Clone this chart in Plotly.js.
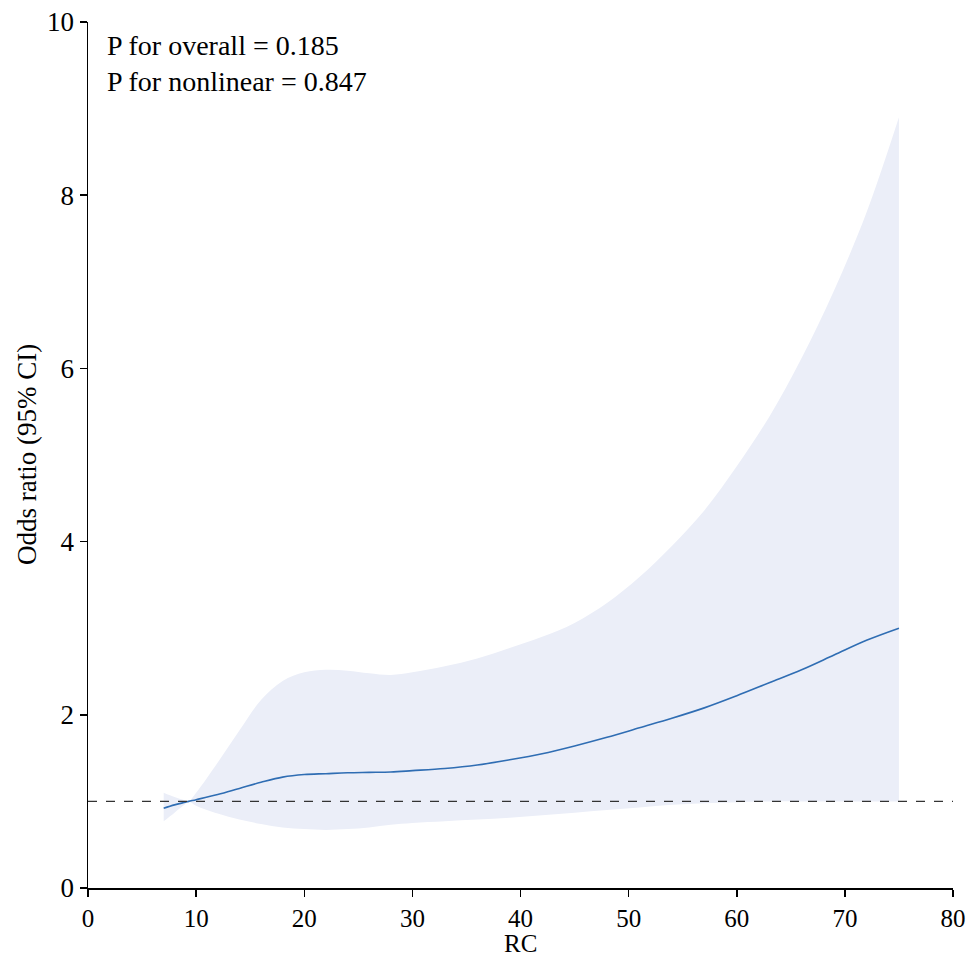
<!DOCTYPE html>
<html>
<head>
<meta charset="utf-8">
<script src="https://cdn.plot.ly/plotly-3.0.1.min.js"></script>
<style>html,body{margin:0;padding:0;background:#fff;}#chart{width:970px;height:958px;}</style>
</head>
<body>
<div id="chart"></div>
<script>
const rc    = [7, 8, 9, 9.3, 10, 12, 14, 16, 18, 20, 22, 24, 26, 28, 30, 33, 36, 39, 42, 45, 48, 51, 54, 57, 60, 63, 66, 69, 72, 75];
const orFit = [0.92, 0.96, 0.99, 1.0, 1.02, 1.08, 1.15, 1.22, 1.28, 1.31, 1.32, 1.33, 1.335, 1.34, 1.355, 1.38, 1.42, 1.48, 1.55, 1.64, 1.74, 1.85, 1.96, 2.08, 2.22, 2.37, 2.52, 2.69, 2.86, 3.00];
const orUpper = [1.10, 1.05, 1.01, 1.0, 1.10, 1.45, 1.82, 2.17, 2.39, 2.49, 2.52, 2.51, 2.48, 2.46, 2.49, 2.56, 2.65, 2.77, 2.90, 3.06, 3.29, 3.59, 3.95, 4.36, 4.87, 5.44, 6.12, 6.90, 7.80, 8.90];
const orLower = [0.77, 0.87, 0.97, 1.0, 0.95, 0.86, 0.79, 0.74, 0.70, 0.68, 0.67, 0.68, 0.70, 0.73, 0.75, 0.77, 0.79, 0.81, 0.84, 0.87, 0.90, 0.93, 0.96, 0.98, 0.99, 1.0, 1.0, 1.0, 1.0, 1.0];
const xTicks = [0, 10, 20, 30, 40, 50, 60, 70, 80];
const yTicks = [0, 2, 4, 6, 8, 10];
const pText = ["P for overall = 0.185", "P for nonlinear = 0.847"];
const xTitle = "RC";
const yTitle = "Odds ratio (95% CI)";

const font = "Liberation Serif, Times New Roman, serif";
const fs = 27;
const traces = [
  {x: rc, y: orLower, type: "scatter", mode: "lines", line: {width: 0, color: "rgba(0,0,0,0)", shape: "spline", smoothing: 1}, hoverinfo: "skip", showlegend: false},
  {x: rc, y: orUpper, type: "scatter", mode: "lines", fill: "tonexty", fillcolor: "#EBEEF8", line: {width: 0, color: "rgba(0,0,0,0)", shape: "spline", smoothing: 1}, hoverinfo: "skip", showlegend: false},
  {x: rc, y: orFit, type: "scatter", mode: "lines", line: {width: 1.6, color: "#2F6DB3", shape: "spline", smoothing: 1}, showlegend: false}
];
const layout = {
  width: 970, height: 958,
  margin: {l: 88, r: 17, t: 22, b: 70},
  paper_bgcolor: "#fff", plot_bgcolor: "#fff",
  font: {family: font, size: fs, color: "#000"},
  xaxis: {range: [0, 80], tickvals: xTicks, ticktext: xTicks.map(String), showgrid: false, zeroline: false,
          showline: true, linecolor: "#000", linewidth: 1.5, ticks: "outside", ticklen: 7, tickwidth: 1.5, tickcolor: "#000",
          tickfont: {family: font, size: 25}},
  yaxis: {range: [0, 10], tickvals: yTicks, ticktext: yTicks.map(String), showgrid: false, zeroline: false,
          showline: true, linecolor: "#000", linewidth: 1.5, ticks: "outside", ticklen: 7, tickwidth: 1.5, tickcolor: "#000",
          tickfont: {family: font, size: fs}},
  shapes: [{type: "line", xref: "x", yref: "y", x0: 0, x1: 80, y0: 1, y1: 1, line: {color: "#333", width: 1.3, dash: "dash"}}],
  annotations: [
    {xref: "paper", yref: "paper", x: 0.02, y: 0.993, xanchor: "left", yanchor: "top", align: "left",
     showarrow: false, text: pText.join("<br>"), font: {family: font, size: 28, color: "#000"}},
    {xref: "paper", yref: "paper", x: 0.5, y: -0.0805, xanchor: "center", yanchor: "bottom",
     showarrow: false, borderpad: 0, text: xTitle, font: {family: font, size: 25, color: "#000"}},
    {xref: "paper", yref: "paper", x: -0.0705, y: 0.5, xanchor: "center", yanchor: "middle", textangle: -90,
     showarrow: false, borderpad: 0, text: yTitle, font: {family: font, size: fs, color: "#000"}}
  ]
};
Plotly.newPlot("chart", traces, layout, {displayModeBar: false, staticPlot: true});
</script>
</body>
</html>
